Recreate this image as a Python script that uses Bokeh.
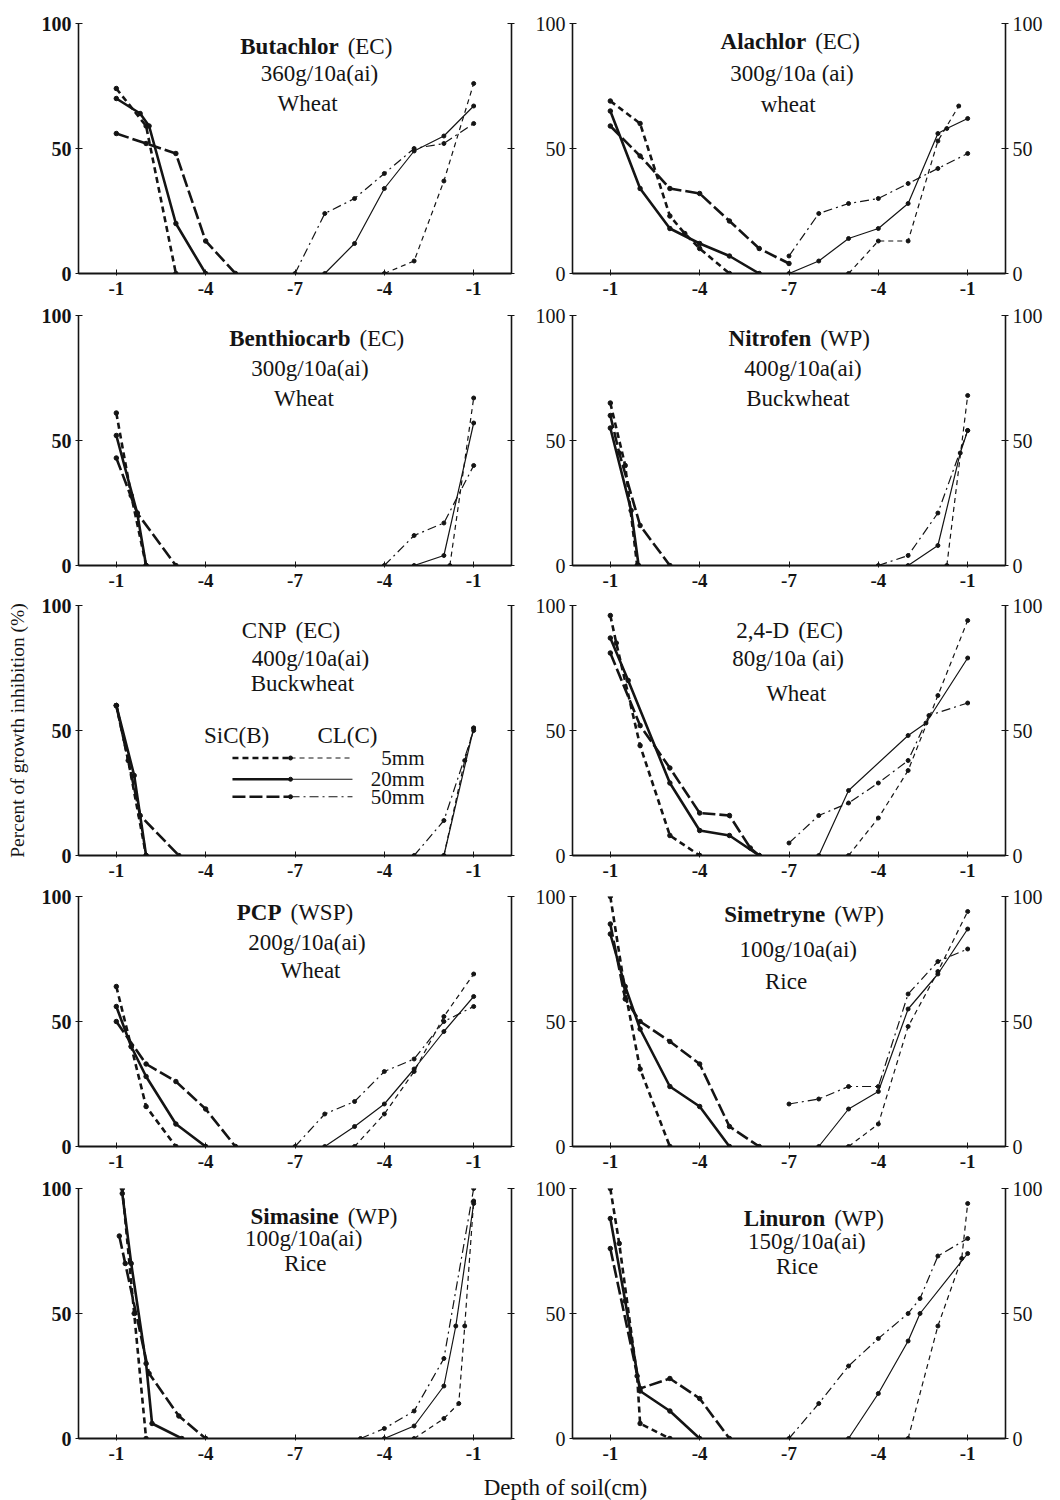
from bokeh.plotting import figure
from bokeh.models import Range1d, LinearAxis, FixedTicker, Label
from bokeh.layouts import column, row
from bokeh.embed import file_html
from bokeh.resources import INLINE

# ---------------- data ----------------
SERIES = ["5mm", "20mm", "50mm"]
X_TICKS = [1, 4, 7, 10, 13]
X_TICK_LABELS = ["-1", "-4", "-7", "-4", "-1"]
Y_TICKS = [0, 50, 100]
Y_TICK_LABELS = ["0", "50", "100"]

PANEL_NAMES = ["Butachlor", "Alachlor", "Benthiocarb", "Nitrofen", "CNP",
               "2,4-D", "PCP", "Simetryne", "Simasine", "Linuron"]
PANEL_FORMS = ["(EC)", "(EC)", "(EC)", "(WP)", "(EC)", "(EC)", "(WSP)", "(WP)", "(WP)", "(WP)"]
PANEL_DOSES = ["360g/10a(ai)", "300g/10a (ai)", "300g/10a(ai)", "400g/10a(ai)", "400g/10a(ai)",
               "80g/10a (ai)", "200g/10a(ai)", "100g/10a(ai)", "100g/10a(ai)", "150g/10a(ai)"]
PANEL_CROPS = ["Wheat", "wheat", "Wheat", "Buckwheat", "Buckwheat",
               "Wheat", "Wheat", "Rice", "Rice", "Rice"]
PANEL_BOLD = [True, True, True, True, False, False, True, True, True, True]

# each series: (depth of soil in cm, percent of growth inhibition)
butachlor_sic = {"5mm": ([-1, -2, -3], [74, 59, 0]),
                 "20mm": ([-1, -1.8, -2.1, -3, -4], [70, 64, 59, 20, 0]),
                 "50mm": ([-1, -2, -3, -4, -5], [56, 52, 48, 13, 0])}
butachlor_cl = {"5mm": ([-4, -3, -2, -1], [0, 5, 37, 76]),
                "20mm": ([-6, -5, -4, -3, -2, -1], [0, 12, 34, 49, 55, 67]),
                "50mm": ([-7, -6, -5, -4, -3, -2, -1], [0, 24, 30, 40, 50, 52, 60])}

alachlor_sic = {"5mm": ([-1, -2, -3, -3.5, -4, -5], [69, 60, 23, 16, 10, 0]),
                "20mm": ([-1, -2, -3, -4, -5, -6], [65, 34, 18, 12, 7, 0]),
                "50mm": ([-1, -2, -3, -4, -5, -6, -7], [59, 47, 34, 32, 21, 10, 4])}
alachlor_cl = {"5mm": ([-5, -4, -3, -2, -1.3], [0, 13, 13, 53, 67]),
               "20mm": ([-7, -6, -5, -4, -3, -2, -1.7, -1], [0, 5, 14, 18, 28, 56, 58, 62]),
               "50mm": ([-7, -6, -5, -4, -3, -2, -1], [7, 24, 28, 30, 36, 42, 48])}

benthiocarb_sic = {"5mm": ([-1, -1.5, -2], [61, 28, 0]),
                   "20mm": ([-1, -1.7, -2], [52, 21, 0]),
                   "50mm": ([-1, -1.7, -3], [43, 21, 0])}
benthiocarb_cl = {"5mm": ([-1.8, -1], [0, 67]),
                  "20mm": ([-3, -2, -1], [0, 4, 57]),
                  "50mm": ([-4, -3, -2, -1], [0, 12, 17, 40])}

nitrofen_sic = {"5mm": ([-1, -1.5, -1.9], [65, 40, 0]),
                "20mm": ([-1, -1.7, -1.95], [55, 22, 0]),
                "50mm": ([-1, -1.3, -2, -3], [60, 45, 16, 0])}
nitrofen_cl = {"5mm": ([-1.7, -1], [0, 68]),
               "20mm": ([-3, -2, -1.25, -1], [0, 8, 45, 54]),
               "50mm": ([-4, -3, -2, -1], [0, 4, 21, 54])}

cnp_sic = {"5mm": ([-1, -1.4, -2], [60, 38, 0]),
           "20mm": ([-1, -1.6, -2], [60, 32, 0]),
           "50mm": ([-1, -1.8, -3.1], [60, 16, 0])}
cnp_cl = {"5mm": ([-2, -1.3, -1], [0, 38, 51]),
          "20mm": ([-2, -1], [0, 51]),
          "50mm": ([-3, -2, -1], [0, 14, 50])}

d24_sic = {"5mm": ([-1, -1.2, -2, -3, -4], [96, 85, 44, 8, 0]),
           "20mm": ([-1, -1.6, -3, -4, -5, -6], [87, 70, 29, 10, 8, 0]),
           "50mm": ([-1, -2, -3, -4, -5, -5.7, -6], [81, 52, 35, 17, 16, 3, 0])}
d24_cl = {"5mm": ([-5, -4, -3, -2, -1], [0, 15, 34, 64, 94]),
          "20mm": ([-6, -5, -3, -2.4, -1], [0, 26, 48, 53, 79]),
          "50mm": ([-7, -6, -5, -4, -3, -2.3, -1], [5, 16, 21, 29, 38, 56, 61])}

pcp_sic = {"5mm": ([-1, -1.5, -2, -3], [64, 40, 16, 0]),
           "20mm": ([-1, -1.5, -2, -3, -4], [56, 40, 28, 9, 0]),
           "50mm": ([-1, -2, -3, -4, -5], [50, 33, 26, 15, 0])}
pcp_cl = {"5mm": ([-5, -4, -3, -2, -1], [0, 13, 30, 52, 69]),
          "20mm": ([-6, -5, -4, -3, -2, -1], [0, 8, 17, 31, 46, 60]),
          "50mm": ([-7, -6, -5, -4, -3, -2, -1], [0, 13, 18, 30, 35, 50, 56])}

simetryne_sic = {"5mm": ([-1, -1.5, -2, -3], [100, 62, 31, 0]),
                 "20mm": ([-1, -1.5, -2, -3, -4, -5], [85, 64, 47, 24, 16, 0]),
                 "50mm": ([-1, -1.5, -2, -3, -4, -5, -6], [89, 59, 50, 42, 33, 8, 0])}
simetryne_cl = {"5mm": ([-5, -4, -3, -2, -1], [0, 9, 48, 70, 94]),
                "20mm": ([-6, -5, -4, -3, -2, -1], [0, 15, 22, 55, 69, 87]),
                "50mm": ([-7, -6, -5, -4, -3, -2, -1], [17, 19, 24, 24, 61, 74, 79])}

simasine_sic = {"5mm": ([-1.2, -1.6, -2], [100, 50, 0]),
                "20mm": ([-1.2, -1.5, -2, -2.2, -3.2], [98, 70, 30, 6, 0]),
                "50mm": ([-1.1, -1.3, -2.1, -3.1, -4], [81, 70, 26, 9, 0])}
simasine_cl = {"5mm": ([-3, -2, -1.5, -1.3, -1], [0, 8, 14, 45, 95]),
               "20mm": ([-4, -3, -2, -1.6, -1], [0, 5, 21, 45, 94]),
               "50mm": ([-4.8, -4, -3, -2, -1], [0, 4, 11, 32, 100])}

linuron_sic = {"5mm": ([-1, -1.3, -1.9, -2, -3], [100, 78, 25, 6, 0]),
               "20mm": ([-1, -1.5, -2, -3, -4], [88, 55, 19, 11, 0]),
               "50mm": ([-1, -2, -3, -4, -5], [76, 20, 24, 16, 0])}
linuron_cl = {"5mm": ([-3, -2, -1.2, -1], [0, 45, 72, 94]),
              "20mm": ([-5, -4, -3, -2.6, -1], [0, 18, 39, 50, 74]),
              "50mm": ([-7, -6, -5, -4, -3, -2.6, -2, -1], [0, 14, 29, 40, 50, 56, 73, 80])}

SIC_DATA = [butachlor_sic, alachlor_sic, benthiocarb_sic, nitrofen_sic, cnp_sic,
            d24_sic, pcp_sic, simetryne_sic, simasine_sic, linuron_sic]
CL_DATA = [butachlor_cl, alachlor_cl, benthiocarb_cl, nitrofen_cl, cnp_cl,
           d24_cl, pcp_cl, simetryne_cl, simasine_cl, linuron_cl]

# ---------------- styles / layout ----------------
INK = "#141414"
FONT = "Liberation Serif"
FOLD = 14  # CL(C) half is mirrored: position = FOLD + depth
SIC_STYLE = {"5mm": dict(line_dash="6 4", line_width=2.6),
             "20mm": dict(line_dash="solid", line_width=2.6),
             "50mm": dict(line_dash="13 4", line_width=2.6)}
CL_STYLE = {"5mm": dict(line_dash="5 4", line_width=1.2),
            "20mm": dict(line_dash="solid", line_width=1.2),
            "50mm": dict(line_dash="9 4 2 4", line_width=1.2)}

# (split x of first line, x of line 2, x of line 3, y1, y2, y3)
TITLE_POS = [(8.60, 7.82, 7.42, 91, 80, 68),
             (7.71, 7.10, 6.97, 93, 80, 67.5),
             (9.00, 7.50, 7.30, 90.8, 78.8, 66.8),
             (7.88, 7.47, 7.30, 90.8, 79, 67),
             (6.85, 7.52, 7.25, 90, 79, 69),
             (7.14, 6.97, 7.24, 90, 79, 65),
             (6.68, 7.40, 7.52, 93.5, 81.5, 70.4),
             (8.35, 7.31, 6.90, 93, 79, 66),
             (8.60, 7.29, 7.35, 89, 80, 70),
             (8.35, 7.60, 7.27, 88, 79, 69)]

ROW_TOP = [23, 10, 10, 10, 10]
ROW_BOTTOM = [32, 30, 31, 32, 34]


def make_panel(i):
    r, c = divmod(i, 2)
    p = figure(frame_width=433, frame_height=250,
               x_range=Range1d(-0.27, 14.27), y_range=Range1d(0, 100),
               output_backend="svg", toolbar_location=None,
               min_border_left=78 if c == 0 else 42,
               min_border_right=19 if c == 0 else 55,
               min_border_top=ROW_TOP[r], min_border_bottom=ROW_BOTTOM[r],
               outline_line_color=None, background_fill_color="white",
               border_fill_color="white")
    p.grid.visible = False

    xa = p.xaxis[0]
    xa.ticker = FixedTicker(ticks=X_TICKS)
    xa.major_label_overrides = dict(zip(X_TICKS, X_TICK_LABELS))
    xa.axis_line_width = 2
    xa.axis_line_color = INK
    xa.major_tick_line_color = INK
    xa.major_tick_in = 4
    xa.major_tick_out = 2
    xa.minor_tick_line_color = None
    xa.major_label_standoff = 6
    xa.major_label_text_font = FONT
    xa.major_label_text_font_size = "19px"
    xa.major_label_text_font_style = "bold"
    xa.major_label_text_color = INK

    ya = p.yaxis[0]
    ra = LinearAxis()
    p.add_layout(ra, "right")
    for ax in (ya, ra):
        ax.ticker = FixedTicker(ticks=Y_TICKS)
        ax.axis_line_width = 1.6
        ax.axis_line_color = INK
        ax.major_tick_line_color = INK
        ax.major_tick_in = 4
        ax.major_tick_out = 3
        ax.minor_tick_line_color = None
        ax.major_label_standoff = 4
        ax.major_label_text_font = FONT
        ax.major_label_text_font_size = "20px"
        ax.major_label_text_color = INK
    ya.major_label_overrides = dict(zip(Y_TICKS, Y_TICK_LABELS))
    if c == 0:
        ya.major_label_text_font_style = "bold"
        ra.major_label_overrides = dict(zip(Y_TICKS, ["", "", ""]))
    else:
        ra.major_label_overrides = dict(zip(Y_TICKS, Y_TICK_LABELS))

    sic, cl = SIC_DATA[i], CL_DATA[i]
    for key in SERIES:
        d, v = sic[key]
        xs = [-x for x in d]
        p.line(xs, v, line_color=INK, line_join="round", **SIC_STYLE[key])
        p.scatter(xs, v, size=4.5, color=INK)
        d, v = cl[key]
        xs = [FOLD + x for x in d]
        p.line(xs, v, line_color=INK, line_join="round", **CL_STYLE[key])
        p.scatter(xs, v, size=4, color=INK)

    sx, x2, x3, y1, y2, y3 = TITLE_POS[i]
    common = dict(text_font=FONT, text_font_size="23px", text_color=INK,
                  text_baseline="middle")
    p.add_layout(Label(x=sx, y=y1, x_offset=-4, text=PANEL_NAMES[i], text_align="right",
                       text_font_style="bold" if PANEL_BOLD[i] else "normal", **common))
    p.add_layout(Label(x=sx, y=y1, x_offset=5, text=PANEL_FORMS[i], text_align="left", **common))
    p.add_layout(Label(x=x2, y=y2, text=PANEL_DOSES[i], text_align="center", **common))
    p.add_layout(Label(x=x3, y=y3, text=PANEL_CROPS[i], text_align="center", **common))
    return p


panels = [make_panel(i) for i in range(10)]

# legend inside the CNP panel
lp = panels[4]
LEG_X0, LEG_XM, LEG_X1, LEG_XT = 4.9, 6.85, 8.93, 11.35
LEG_Y = {"5mm": 39, "20mm": 30.5, "50mm": 23.5}
for key in SERIES:
    yy = LEG_Y[key]
    lp.line([LEG_X0, LEG_XM], [yy, yy], line_color=INK, **SIC_STYLE[key])
    lp.line([LEG_XM, LEG_X1], [yy, yy], line_color=INK, **CL_STYLE[key])
    lp.scatter([LEG_XM], [yy], size=4, color=INK)
    lp.add_layout(Label(x=LEG_XT, y=yy, text=key, text_align="right", text_baseline="middle",
                        text_font=FONT, text_font_size="21px", text_color=INK))
lp.add_layout(Label(x=5.04, y=48, text="SiC(B)", text_align="center", text_baseline="middle",
                    text_font=FONT, text_font_size="23px", text_color=INK))
lp.add_layout(Label(x=8.76, y=48, text="CL(C)", text_align="center", text_baseline="middle",
                    text_font=FONT, text_font_size="23px", text_color=INK))
lp.yaxis[0].axis_label = "Percent of growth inhibition (%)"
lp.yaxis[0].axis_label_text_font = FONT
lp.yaxis[0].axis_label_text_font_size = "19.5px"
lp.yaxis[0].axis_label_text_font_style = "normal"
lp.yaxis[0].axis_label_text_color = INK
lp.yaxis[0].axis_label_standoff = 11

# bottom x-axis title strip
xl = figure(width=1060, height=28, x_range=Range1d(0, 1060), y_range=Range1d(0, 28),
            output_backend="svg", toolbar_location=None, min_border=0,
            x_axis_location=None, y_axis_location=None, outline_line_color=None)
xl.grid.visible = False
xl.add_layout(Label(x=565, y=13, x_units="screen", y_units="screen", text="Depth of soil(cm)",
                    text_align="center", text_baseline="middle", text_font=FONT,
                    text_font_size="23px", text_color=INK))

layout = column(*[row(panels[2 * k], panels[2 * k + 1]) for k in range(5)], xl)

open("out.html", "w").write(file_html(layout, INLINE))
